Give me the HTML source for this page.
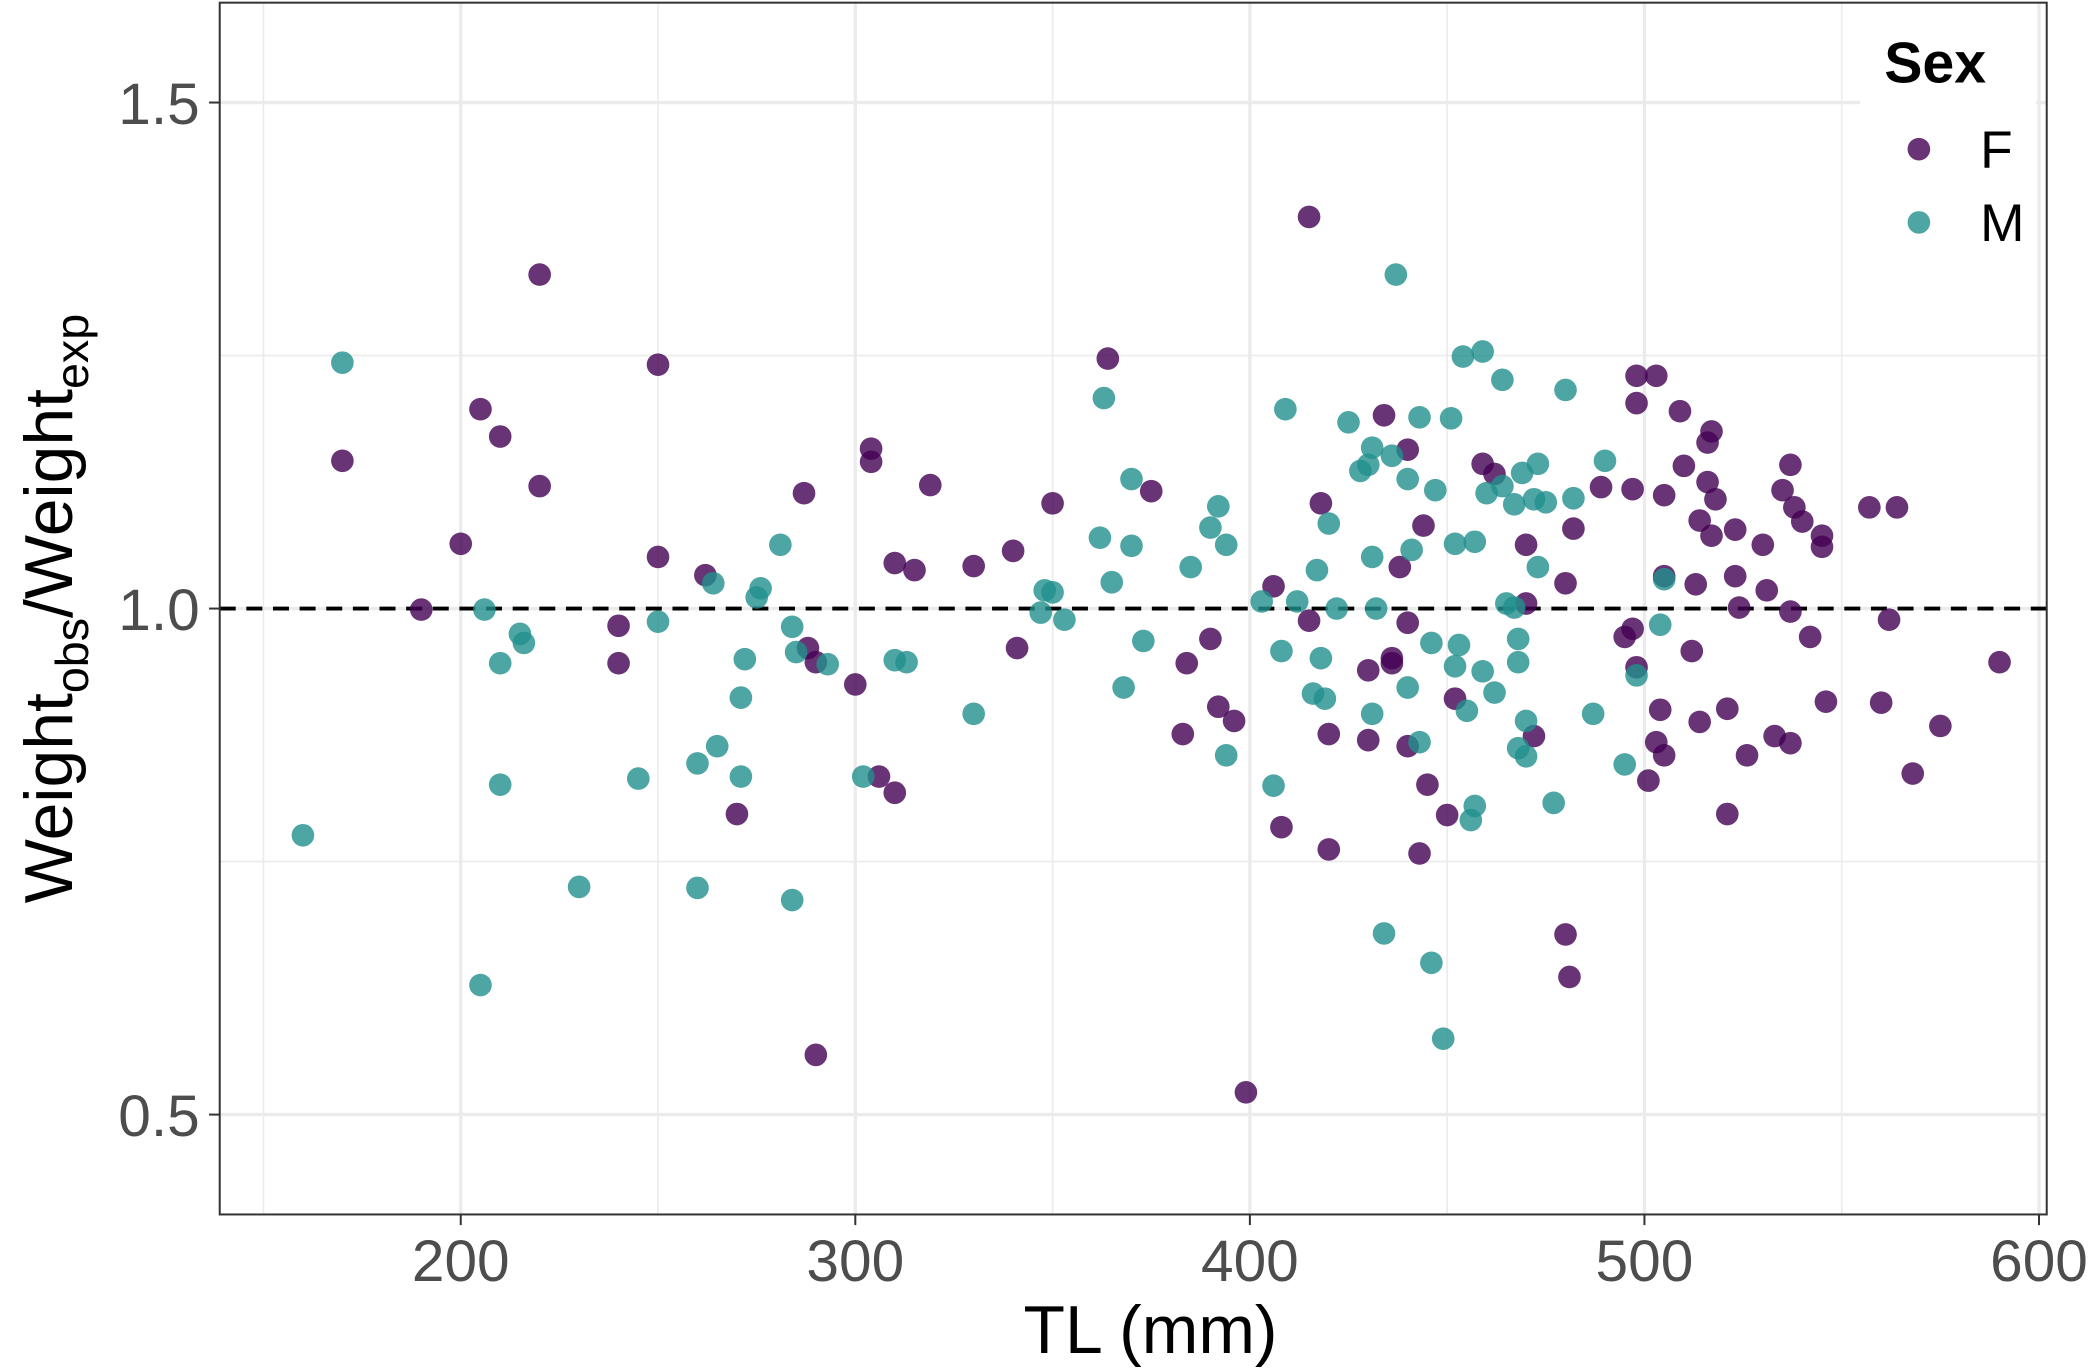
<!DOCTYPE html>
<html><head><meta charset="utf-8"><style>
html,body{margin:0;padding:0;background:#fff;}
svg{display:block;font-family:"Liberation Sans",Arial,sans-serif;}
</style></head><body>
<svg id="chart" width="2088" height="1368" viewBox="0 0 1568 1027.3" xmlns="http://www.w3.org/2000/svg">
<rect x="0" y="0" width="1568" height="1028" fill="#fff"/>
<g id="grid"></g>
<g id="ref"></g>
<g id="pts"></g>
<rect x="165" y="2" width="1372" height="910" fill="none" stroke="#333" stroke-width="1.5"/>
<g id="axes"></g>
<text x="864" y="1016" font-size="51" text-anchor="middle" fill="#000">TL (mm)</text>
<text transform="translate(54,457) rotate(-90)" font-size="51" text-anchor="middle" fill="#000">Weight<tspan font-size="35" dy="12">obs</tspan><tspan dy="-12">/Weight</tspan><tspan font-size="35" dy="12">exp</tspan></text>
<g>
<rect x="1397" y="3" width="132" height="207" fill="#fff"/>
<text x="1415" y="62" font-size="43" font-weight="bold">Sex</text>
<circle cx="1441" cy="112" r="8.5" fill="#440154" fill-opacity="0.8"/>
<text x="1487" y="126" font-size="40">F</text>
<circle cx="1441" cy="167" r="8.5" fill="#21908C" fill-opacity="0.8"/>
<text x="1487" y="181" font-size="40">M</text>
</g>
</svg>
<script>
const xTicks=[200,300,400,500,600];
const xMinor=[150,250,350,450,550];
const yTicks=[0.5,1.0,1.5];
const yTickLabels=["0.5","1.0","1.5"];
const yMinor=[0.75,1.25];
const refValue=1.0;
const fTL=[170,205,210,220,220,200,190,240,240,250,250,262,270,287,288,290,290,300,304,304,306,310,310,315,319,330,340,341,350,364,375,384,383,390,392,396,399,406,415,415,418,408,420,420,430,430,434,436,436,438,440,440,440,444,443,445,450,452,459,462,470,470,472,480,482,480,481,489,497,495,497,498,498,498,503,501,503,504,505,505,505,509,510,512,513,514,514,516,516,517,517,518,521,521,523,523,524,526,530,531,533,535,537,537,537,538,540,542,545,545,546,557,560,562,564,568,575,590];
const fRatio=[1.146,1.197,1.170,1.330,1.121,1.064,0.999,0.983,0.946,1.241,1.051,1.033,0.797,1.114,0.961,0.947,0.559,0.925,1.158,1.145,0.834,1.045,0.818,1.038,1.122,1.042,1.057,0.961,1.104,1.247,1.116,0.946,0.876,0.970,0.903,0.889,0.522,1.022,1.387,0.988,1.104,0.784,0.876,0.762,0.939,0.870,1.191,0.951,0.946,1.041,1.157,0.986,0.864,1.082,0.758,0.826,0.796,0.911,1.143,1.133,1.005,1.063,0.874,1.025,1.079,0.678,0.636,1.120,1.118,0.972,0.980,1.230,1.203,0.942,1.230,0.830,0.868,0.900,0.855,1.112,1.032,1.195,1.141,0.958,1.024,0.888,1.087,1.125,1.164,1.175,1.072,1.108,0.901,0.797,1.078,1.032,1.001,0.855,1.063,1.018,0.874,1.117,1.142,0.997,0.867,1.100,1.086,0.972,1.072,1.061,0.908,1.100,0.907,0.989,1.100,0.837,0.884,0.947];
const mTL=[160,170,205,206,210,210,215,216,230,245,250,260,260,264,265,271,271,272,275,276,281,284,284,285,293,302,310,313,330,347,348,350,353,362,363,365,368,370,370,373,385,390,392,394,394,403,406,408,409,412,416,417,418,419,420,422,425,428,430,431,431,431,432,434,436,437,440,440,441,443,443,446,446,447,449,451,452,452,453,454,455,456,457,457,459,459,460,462,464,464,465,467,467,468,468,468,469,470,470,472,473,473,475,477,480,482,487,490,495,498,504,505];
const mRatio=[0.776,1.243,0.628,0.999,0.946,0.826,0.975,0.966,0.725,0.832,0.987,0.847,0.724,1.025,0.864,0.834,0.912,0.950,1.011,1.020,1.063,0.982,0.712,0.957,0.945,0.834,0.949,0.947,0.896,0.996,1.018,1.016,0.989,1.070,1.208,1.026,0.922,1.128,1.062,0.968,1.041,1.080,1.101,1.063,0.855,1.007,0.825,0.958,1.197,1.007,0.916,1.038,0.951,0.911,1.084,1.000,1.184,1.136,1.142,1.159,1.051,0.896,1.000,0.679,1.151,1.330,0.922,1.128,1.058,1.189,0.868,0.966,0.650,1.117,0.575,1.188,1.064,0.943,0.964,1.249,0.899,0.791,0.805,1.066,1.254,0.938,1.114,0.917,1.226,1.121,1.005,1.103,1.001,0.947,0.970,0.862,1.134,0.889,0.854,1.108,1.143,1.041,1.105,0.808,1.216,1.109,0.896,1.146,0.846,0.934,0.984,1.029];

const NS="http://www.w3.org/2000/svg";
const X=v=>346+(v-200)*2.963;
const Y=v=>457-(v-1)*760;
function mk(tag,attrs,parent){const e=document.createElementNS(NS,tag);for(const k in attrs)e.setAttribute(k,attrs[k]);parent.appendChild(e);return e;}
const grid=document.getElementById('grid'),axes=document.getElementById('axes');
xMinor.forEach(v=>{const l=mk('line',{x1:X(v),x2:X(v),y1:2,y2:912,stroke:'#ebebeb','stroke-width':1.2},grid);

});
yMinor.forEach(v=>{const l=mk('line',{x1:165,x2:1537,y1:Y(v),y2:Y(v),stroke:'#ebebeb','stroke-width':1.2},grid);

});
xTicks.forEach(v=>{const l=mk('line',{x1:X(v),x2:X(v),y1:2,y2:912,stroke:'#ebebeb','stroke-width':2.5},grid);


const t=mk('line',{x1:X(v),x2:X(v),y1:912,y2:920,stroke:'#333','stroke-width':1.5},axes);


const tx=mk('text',{x:X(v),y:962,'font-size':44,'text-anchor':'middle',fill:'#4d4d4d'},axes);tx.textContent=v;

});
yTicks.forEach((v,i)=>{const l=mk('line',{x1:165,x2:1537,y1:Y(v),y2:Y(v),stroke:'#ebebeb','stroke-width':2.5},grid);


const t=mk('line',{x1:157,x2:165,y1:Y(v),y2:Y(v),stroke:'#333','stroke-width':1.5},axes);


const tx=mk('text',{x:150,y:Y(v)+16,'font-size':44,'text-anchor':'end',fill:'#4d4d4d'},axes);tx.textContent=yTickLabels[i];

});
const r=mk('line',{x1:165,x2:1537,y1:Y(refValue),y2:Y(refValue),stroke:'#000','stroke-width':3,'stroke-dasharray':'12,8'},document.getElementById('ref'));


const pts=document.getElementById('pts');
fTL.forEach((v,i)=>{const c=mk('circle',{cx:X(v),cy:Y(fRatio[i]),r:8.5,fill:'#440154','fill-opacity':0.8},pts);

});
mTL.forEach((v,i)=>{const c=mk('circle',{cx:X(v),cy:Y(mRatio[i]),r:8.5,fill:'#21908C','fill-opacity':0.8},pts);

});
</script>
</body></html>
